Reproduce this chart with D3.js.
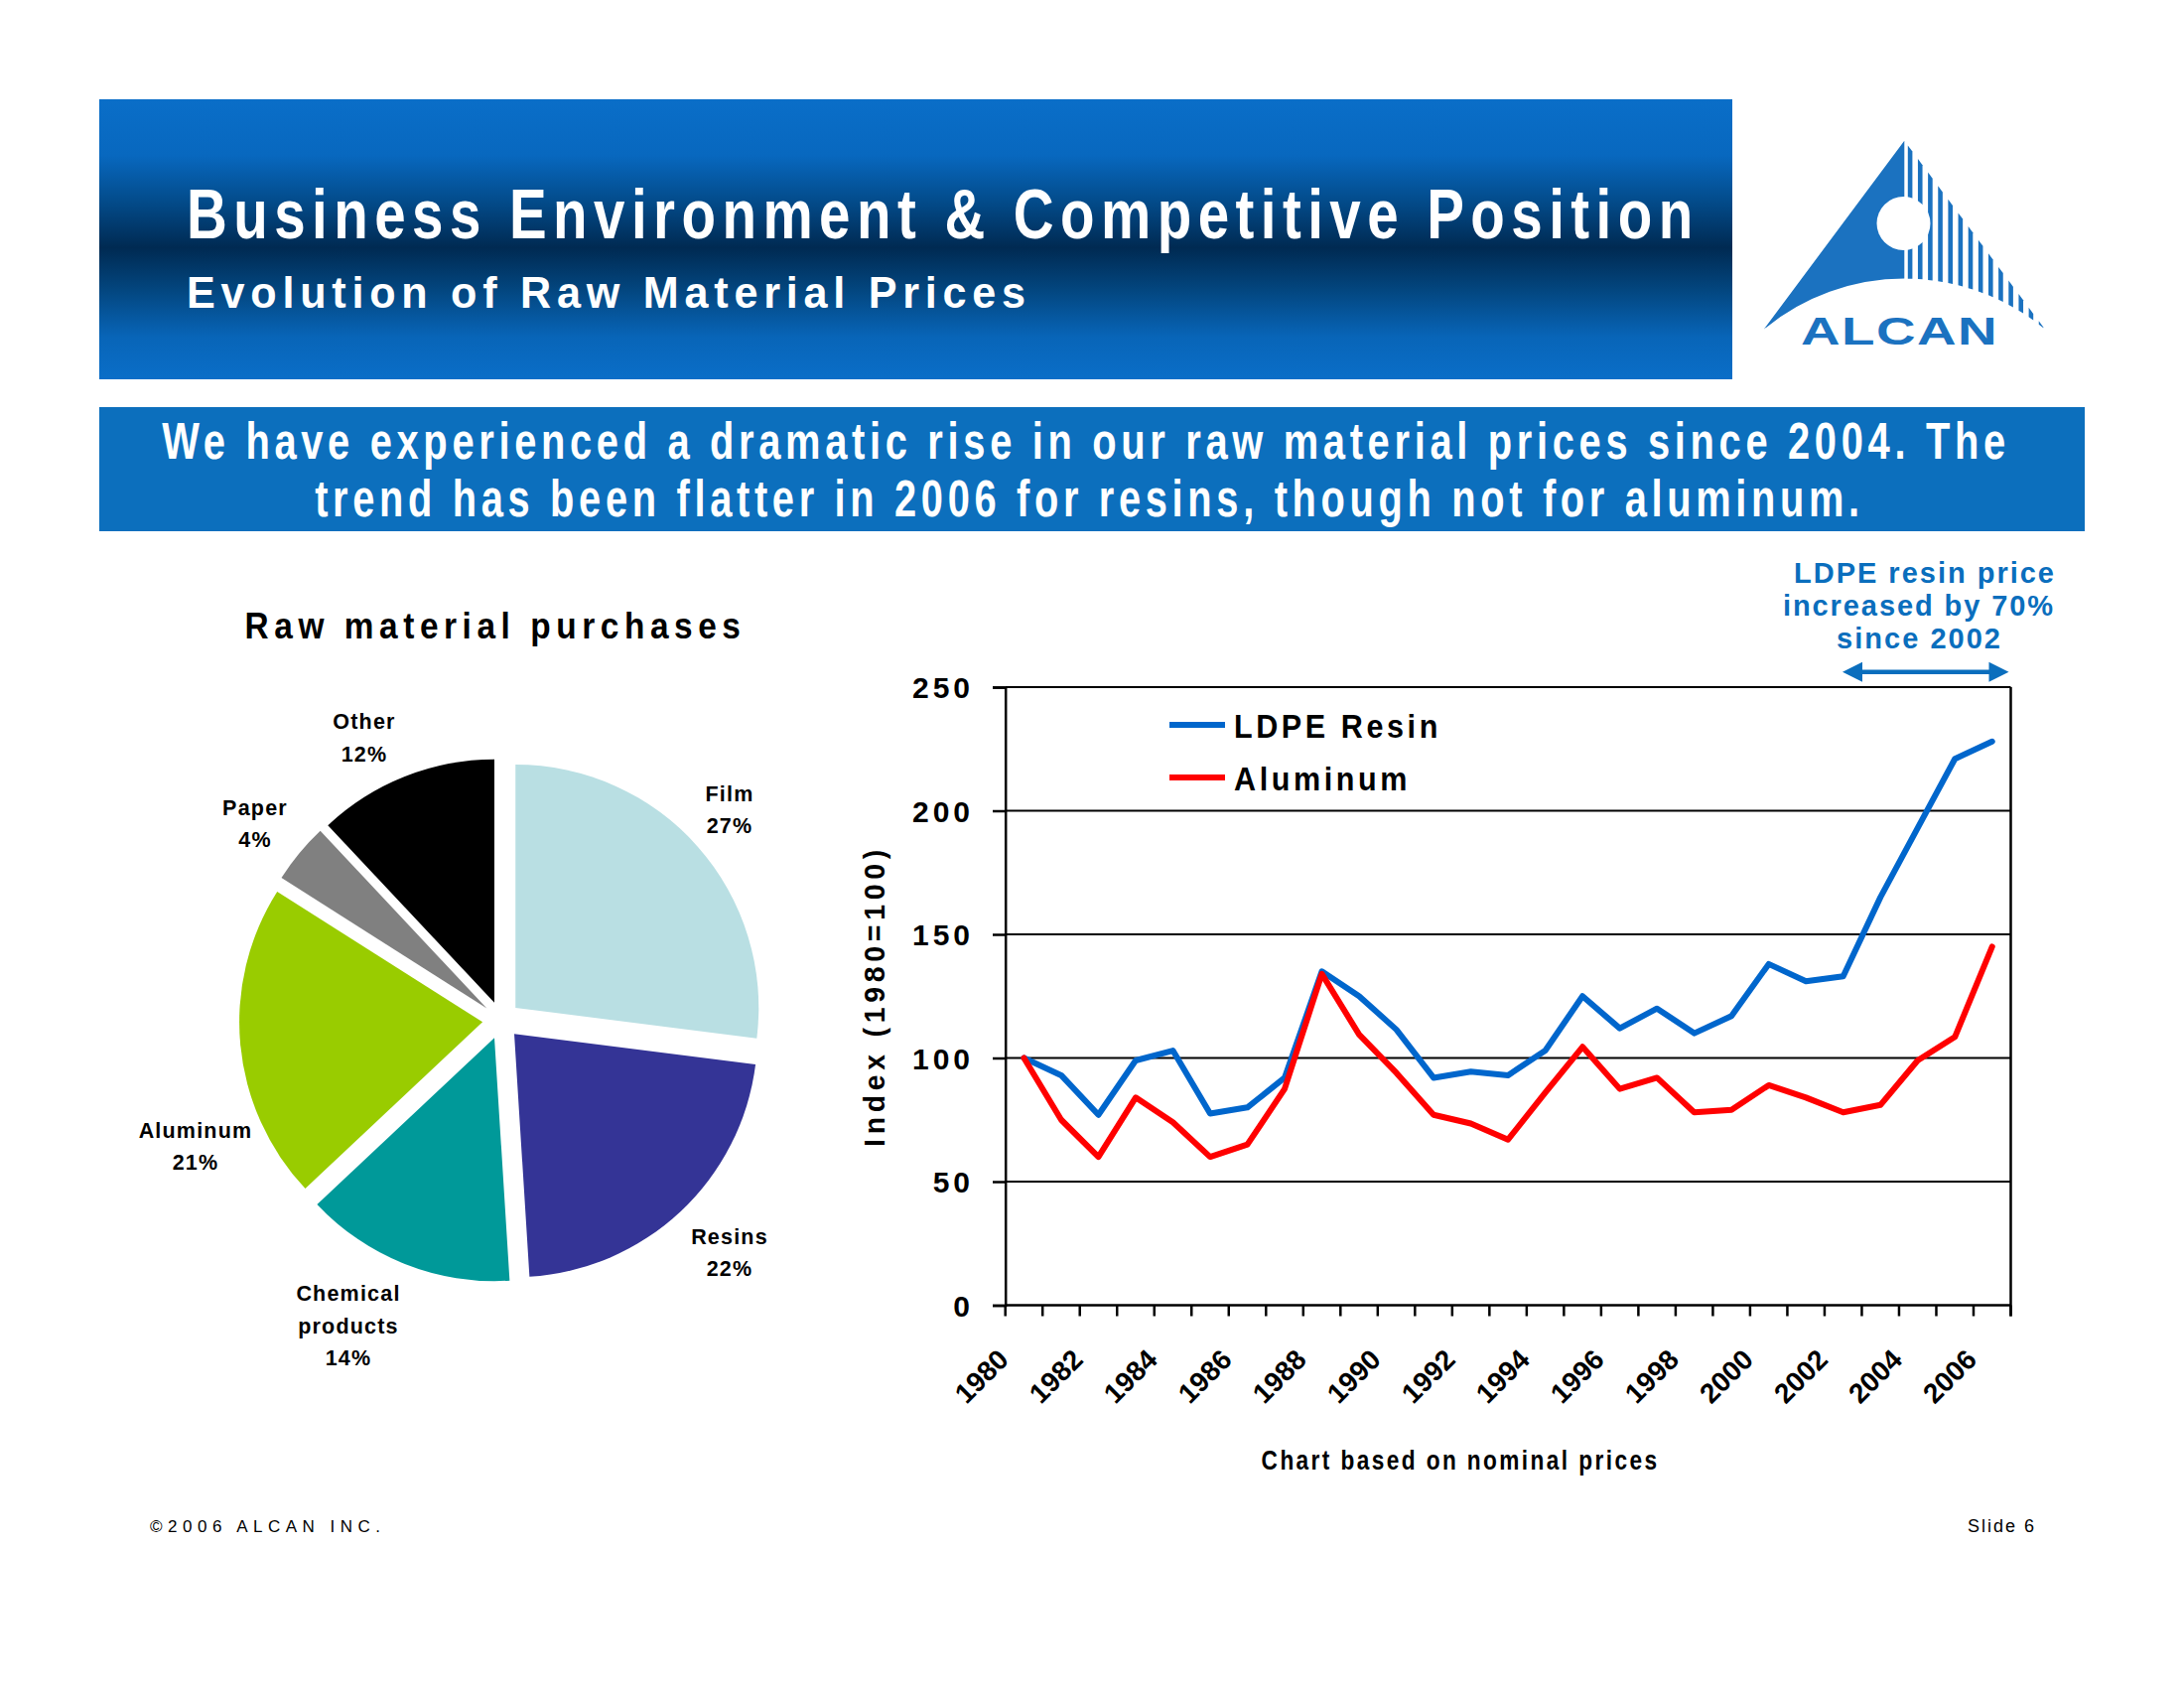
<!DOCTYPE html>
<html><head><meta charset="utf-8">
<script src="https://cdn.jsdelivr.net/npm/d3@7"></script>
<style>body{margin:0;background:#fff} svg{display:block}</style>
</head><body>
<svg id="c" width="2200" height="1700"></svg>
<script>
// ---------------- DATA ----------------
const years = [1980,1981,1982,1983,1984,1985,1986,1987,1988,1989,1990,1991,1992,1993,1994,1995,1996,1997,1998,1999,2000,2001,2002,2003,2004,2005,2006];
const ldpeResin = [100,93,77,99,103,77.5,80,92,135,125,111.5,92,94.5,93,103,125,112,120,110,117,138,131,133,165,193,221,228];
const aluminum  = [100,75,60,84,74,60,65,87.5,134,109.5,94,77,73.5,67,86,104.5,87.5,92,78,79,89,84,78,81,99,108.5,145];
const seriesNames = ["LDPE Resin","Aluminum"];
const yTicks = [0,50,100,150,200,250];
const xTickLabels = [1980,1982,1984,1986,1988,1990,1992,1994,1996,1998,2000,2002,2004,2006];

const pieCategories = ["Film","Resins","Chemical products","Aluminum","Paper","Other"];
const pieShares = [27,22,14,21,4,12];
const pieLabelLines = [["Film","27%"],["Resins","22%"],["Chemical","products","14%"],["Aluminum","21%"],["Paper","4%"],["Other","12%"]];

// ---------------- STYLE / LAYOUT ----------------
const FONT = "'Liberation Sans', Arial, Helvetica, sans-serif";
const pieColors = ["#B9DFE3","#343496","#009999","#99CC00","#808080","#000000"];
const lineColors = ["#0066CC","#FF0000"];
const pieLabelPos = [[735,806.5],[735,1252.7],[351,1310],[197,1145.7],[257,820.7],[367,734]];
const plot = {left:1012.7, right:2025.5, top:692, bottom:1314.5};

const svg = d3.select("#c");
svg.append("rect").attr("width",2200).attr("height",1700).attr("fill","#fff");

// text helper; "squeeze" = letter-spaced text compressed horizontally (via transform) to a target width
function addText(parent, s, o){
  const t = parent.append("text").text(s)
    .attr("font-family",FONT)
    .attr("font-weight",o.w||"bold")
    .attr("font-size",o.size)
    .attr("fill",o.fill||"#000")
    .attr("text-anchor",o.anchor||"start");
  if(o.ls!==undefined) t.attr("letter-spacing",o.ls);
  if(o.squeeze){
    t.attr("x",0).attr("y",0);
    const w = t.node().getComputedTextLength();
    const k = o.len / w;
    const base = o.transform ? o.transform : `translate(${o.x},${o.y})`;
    t.attr("transform",`${base} scale(${k},1)`);
  } else {
    t.attr("x",o.x).attr("y",o.y);
    if(o.len) t.attr("textLength",o.len).attr("lengthAdjust","spacing");
    if(o.transform) t.attr("transform",o.transform);
  }
  return t;
}

// ---------------- HEADER ----------------
const defs = svg.append("defs");
const grad = defs.append("linearGradient").attr("id","hdr").attr("x1",0).attr("y1",0).attr("x2",0).attr("y2",1);
[[0,"#0a6ec8"],[0.2,"#0868bf"],[0.36,"#034c8c"],[0.53,"#002a52"],[0.68,"#03467f"],[0.85,"#0865b8"],[1,"#0a6ec8"]]
  .forEach(([o,c])=>grad.append("stop").attr("offset",o).attr("stop-color",c));
svg.append("rect").attr("x",100).attr("y",100).attr("width",1645).attr("height",282).attr("fill","url(#hdr)");
addText(svg,"Business Environment & Competitive Position",{x:188,y:240,size:70,fill:"#fff",len:1524,ls:8,squeeze:true});
addText(svg,"Evolution of Raw Material Prices",{x:188,y:310,size:45,fill:"#fff",len:851,ls:6,squeeze:true});

// logo
const logo = svg.append("g");
const LB = "#1b72c0";
const L = {cx:1918.3, cy:502.9, R:222.3, ax:1918.3, ay:141.7, lx:1776.7, ly:331.7, rx:2060, ry:331.7};
logo.append("path")
  .attr("d",`M${L.ax},${L.ay} L${L.lx},${L.ly} A${L.R},${L.R} 0 0 1 ${L.cx},${L.cy-L.R} Z`)
  .attr("fill",LB);
const slope = (L.ry-L.ay)/(L.rx-L.ax);
const topY = x => L.ay + (x-L.ax)*slope;
const botY = x => L.cy - Math.sqrt(Math.max(0,L.R*L.R-(x-L.cx)*(x-L.cx)));
for(let i=0;i<14;i++){
  const x0 = 1921.8 + i*10.15, x1 = x0 + 4.6;
  if(topY(x0) >= botY(x0)) continue;
  const pts = [[x0,topY(x0)],[x1,topY(x1)],[x1,Math.max(topY(x1),botY(x1))],[x0,botY(x0)]];
  logo.append("path").attr("d","M"+pts.map(p=>p.join(",")).join("L")+"Z").attr("fill",LB);
}
logo.append("circle").attr("cx",1917.5).attr("cy",225).attr("r",27).attr("fill","#fff");
addText(logo,"ALCAN",{x:1814,y:347,size:38,fill:LB,len:199,ls:1,squeeze:true});

// ---------------- KEY MESSAGE BAND ----------------
svg.append("rect").attr("x",100).attr("y",410).attr("width",2000).attr("height",125).attr("fill","#0c6fbd");
addText(svg,"We have experienced a dramatic rise in our raw material prices since 2004. The",{x:1094,y:462,size:51,fill:"#fff",anchor:"middle",len:1862,ls:6,squeeze:true});
addText(svg,"trend has been flatter in 2006 for resins, though not for aluminum.",{x:1097.5,y:520,size:51,fill:"#fff",anchor:"middle",len:1561,ls:6,squeeze:true});

// ---------------- PIE ----------------
addText(svg,"Raw material purchases",{x:499,y:643,size:36,anchor:"middle",len:505,ls:6,squeeze:true});
const pieC = {x:505, y:1027.5, r:245, off:19};
const arcs = d3.pie().sort(null).value(d=>d)(pieShares);
const arcGen = d3.arc().innerRadius(0).outerRadius(pieC.r);
const pieG = svg.append("g").attr("transform",`translate(${pieC.x},${pieC.y})`);
pieG.selectAll("path").data(arcs).join("path")
  .attr("d",arcGen)
  .attr("fill",(d,i)=>pieColors[i])
  .attr("transform",d=>{const m=(d.startAngle+d.endAngle)/2; return `translate(${Math.sin(m)*pieC.off},${-Math.cos(m)*pieC.off})`;});
pieLabelLines.forEach((lines,i)=>{
  const [lx,ly] = pieLabelPos[i];
  lines.forEach((s,j)=>addText(svg,s,{x:lx,y:ly+j*32.5,size:21.5,anchor:"middle",ls:1.2}));
});

// ---------------- LINE CHART ----------------
const x = d3.scaleBand().domain(years).range([plot.left,plot.right]).padding(0);
const y = d3.scaleLinear().domain([0,250]).range([plot.bottom,plot.top]);
const bw = x.bandwidth();
const chart = svg.append("g");

// gridlines
chart.selectAll("line.grid").data(yTicks.filter(v=>v>0)).join("line")
  .attr("x1",plot.left).attr("x2",plot.right).attr("y1",d=>y(d)).attr("y2",d=>y(d))
  .attr("stroke","#000").attr("stroke-width",2);
// right border
chart.append("line").attr("x1",plot.right).attr("x2",plot.right).attr("y1",plot.top).attr("y2",plot.bottom+11)
  .attr("stroke","#000").attr("stroke-width",2.5);

// y axis
const yAx = chart.append("g").attr("transform",`translate(${plot.left},0)`)
  .call(d3.axisLeft(y).tickValues(yTicks).tickSize(12.7).tickPadding(19));
yAx.select(".domain").attr("stroke","#000").attr("stroke-width",2.5);
yAx.selectAll(".tick line").attr("stroke","#000").attr("stroke-width",2.5);
yAx.selectAll(".tick text").attr("font-family",FONT).attr("font-weight","bold").attr("font-size",30)
  .attr("letter-spacing",4).attr("fill","#000").attr("dy","0.36em");

// x axis line + ticks at band boundaries
chart.append("line").attr("x1",plot.left).attr("x2",plot.right).attr("y1",plot.bottom).attr("y2",plot.bottom)
  .attr("stroke","#000").attr("stroke-width",2.5);
const bounds = years.map(v=>x(v)).concat([x.range()[1]]);
chart.selectAll("line.xt").data(bounds).join("line")
  .attr("x1",d=>d).attr("x2",d=>d).attr("y1",plot.bottom).attr("y2",plot.bottom+11)
  .attr("stroke","#000").attr("stroke-width",2.5);
const xAx = chart.append("g").attr("transform",`translate(0,${plot.bottom})`)
  .call(d3.axisBottom(x).tickValues(xTickLabels).tickSize(0).tickFormat(d=>String(d)));
xAx.select(".domain").remove();
xAx.selectAll(".tick text")
  .attr("font-family",FONT).attr("font-weight","bold").attr("font-size",28).attr("fill","#000")
  .attr("text-anchor","end").attr("x",0).attr("y",0).attr("dy",0)
  .attr("transform","translate(-14,56.5) rotate(-45)");

// lines
const seriesData = [ldpeResin, aluminum];
const lineGen = d3.line().x((d,i)=>x(years[i])+bw/2).y(d=>y(d));
chart.selectAll("path.series").data(seriesData).join("path")
  .attr("d",lineGen).attr("fill","none")
  .attr("stroke",(d,i)=>lineColors[i]).attr("stroke-width",6)
  .attr("stroke-linejoin","round").attr("stroke-linecap","round");

// legend
const legLens = [209,178];
seriesNames.forEach((s,i)=>{
  const ly = 730 + i*53;
  chart.append("line").attr("x1",1178).attr("x2",1234).attr("y1",ly).attr("y2",ly)
    .attr("stroke",lineColors[i]).attr("stroke-width",6);
  addText(chart,s,{x:1243,y:ly+13,size:34,len:legLens[i],ls:4,squeeze:true});
});

// axis titles
addText(svg,"Index (1980=100)",{size:30,anchor:"middle",len:304,ls:5,squeeze:true,transform:"translate(891,1003) rotate(-90)"});
addText(svg,"Chart based on nominal prices",{x:1471,y:1480,size:28,anchor:"middle",len:401,ls:3,squeeze:true});

// annotation
const AC = "#0a6ebd";
addText(svg,"LDPE resin price",{x:1938,y:586.7,size:29,anchor:"middle",len:262,fill:AC});
addText(svg,"increased by 70%",{x:1932,y:619.5,size:29,anchor:"middle",len:272,fill:AC});
addText(svg,"since 2002",{x:1932.5,y:653,size:29,anchor:"middle",len:165,fill:AC});
const ay = 676.7;
svg.append("line").attr("x1",1870).attr("x2",2010).attr("y1",ay).attr("y2",ay).attr("stroke",AC).attr("stroke-width",4.5);
svg.append("path").attr("d",`M1856,${ay} L1876,${ay-10} L1876,${ay+10} Z`).attr("fill",AC);
svg.append("path").attr("d",`M2023.5,${ay} L2003.5,${ay-10} L2003.5,${ay+10} Z`).attr("fill",AC);

// footer
addText(svg,"©2006 ALCAN INC.",{x:151,y:1543,size:17,w:"normal",len:232});
addText(svg,"Slide 6",{x:2049,y:1543,size:18,w:"normal",anchor:"end",len:67});
</script>
</body></html>
